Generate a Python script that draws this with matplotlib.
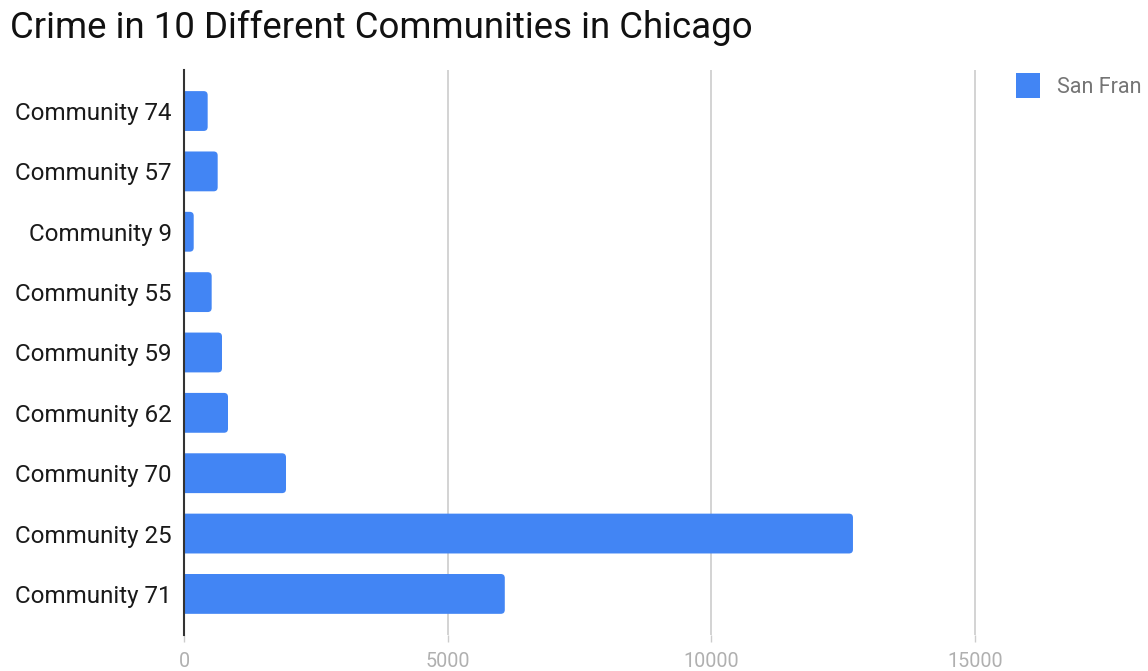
import matplotlib.pyplot as plt
from matplotlib.patches import FancyBboxPatch, Patch

plt.rcParams['font.family'] = ['Roboto', 'DejaVu Sans']

communities = ['Community 74', 'Community 57', 'Community 9', 'Community 55',
               'Community 59', 'Community 62', 'Community 70', 'Community 25',
               'Community 71']
crimes = [440, 630, 175, 516, 712, 826, 1927, 12689, 6080]
x_ticks = [0, 5000, 10000, 15000]

bar_color = '#4285f4'

fig = plt.figure(figsize=(11.48, 6.71), dpi=100)
ax = fig.add_axes([0.1607, 0.0537, 0.7113, 0.842])

ypos = list(range(len(communities)))
bars = ax.barh(ypos, crimes, height=0.66, color=bar_color, label='San Fran')

# swap the plain bars for ones with rounded corners (left side hidden by the clip)
xmax = 15500
ax.set_xlim(0, xmax)
ax.set_ylim(len(communities) - 0.32, -0.68)
px_x = xmax / (0.7113 * 1148)
px_y = (len(communities) + 0.36) / (0.842 * 671)
r = 4 * px_x
for b in bars:
    b.set_visible(False)
    p = FancyBboxPatch((b.get_x() - r, b.get_y()), b.get_width() + r, b.get_height(),
                       boxstyle=f'round,pad=0,rounding_size={r}',
                       mutation_aspect=px_y / px_x,
                       facecolor=bar_color, edgecolor='none', zorder=3)
    ax.add_patch(p)

ax.set_yticks(ypos)
ax.set_yticklabels(communities, fontsize=17.4, color='#1a1a1a')
ax.tick_params(axis='y', length=0, pad=9)

ax.set_xticks(x_ticks)
ax.set_xticklabels([str(v) for v in x_ticks], fontsize=14.2, color='#b0b0b0')
ax.tick_params(axis='x', length=5, width=1, color='#cccccc', pad=7)
ax.get_xticklines()[0].set_color('#333333')

ax.grid(axis='x', color='#cccccc', linewidth=1.2)
ax.set_axisbelow(True)
for s in ['top', 'right', 'bottom']:
    ax.spines[s].set_visible(False)
ax.spines['left'].set_color('#333333')
ax.spines['left'].set_linewidth(1.5)
ax.spines['left'].set_zorder(4)

fig.text(10 / 1148, 1 - 38 / 671, 'Crime in 10 Different Communities in Chicago',
         fontsize=26.4, color='#111111', va='baseline', ha='left')

fig.legend(handles=[Patch(facecolor=bar_color, label='San Fran')],
           loc='upper left', bbox_to_anchor=(997 / 1148, 1 - 54 / 671),
           frameon=False, fontsize=15.5, labelcolor='#757575',
           handlelength=1.1, handleheight=1.4, handletextpad=0.8)

fig.savefig('out.png', dpi=100)
